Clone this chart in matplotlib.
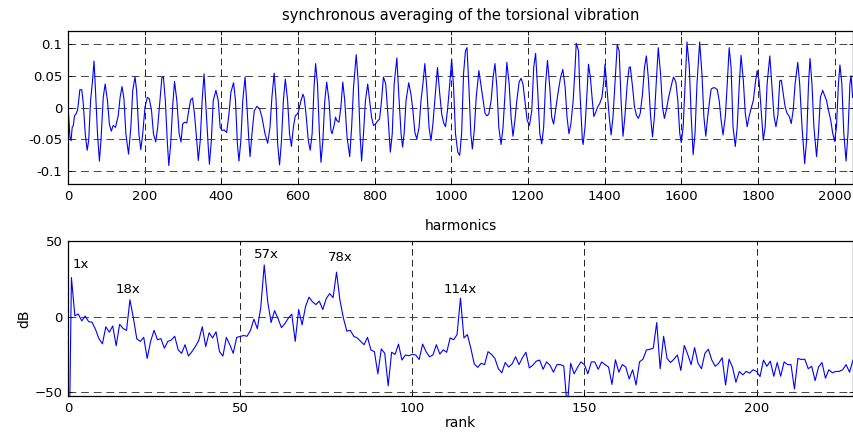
import numpy as np
import matplotlib
matplotlib.use("Agg")
import matplotlib.pyplot as plt
from matplotlib.ticker import FixedLocator, FixedFormatter

plt.rcParams['font.family'] = ['DejaVu Sans']
plt.rcParams['font.size'] = 9.5

# ---------------- data: synchronous average (sample index, value) ----------------
sync_sample = [
    1, 5, 8, 11, 14, 17, 21, 25, 28, 31,
    36, 40, 45, 50, 54, 59, 64, 68, 71, 77,
    82, 86, 92, 97, 103, 108, 113, 118, 124, 131,
    136, 141, 146, 151, 158, 164, 169, 175, 179, 185,
    190, 195, 201, 207, 212, 218, 223, 229, 234, 240,
    245, 249, 254, 259, 263, 268, 273, 278, 284, 290,
    295, 299, 304, 310, 315, 320, 325, 330, 336, 340,
    345, 350, 355, 360, 366, 369, 374, 379, 386, 392,
    397, 402, 407, 414, 420, 425, 432, 437, 442, 446,
    451, 456, 462, 466, 472, 475, 480, 486, 493, 500,
    506, 514, 521, 527, 532, 538, 543, 547, 552, 557,
    562, 567, 573, 578, 583, 588, 593, 597, 601,
    608, 613, 616, 621, 627, 632, 637, 642, 646, 651,
    656, 660, 665, 670, 675, 681, 686, 689, 695, 698,
    701, 707, 712, 717, 722, 728, 735, 740, 745, 752,
    757, 762, 766, 771, 776, 782, 787, 792, 797, 802,
    808, 813, 818, 823, 829, 834, 841, 846, 851, 858,
    863, 869, 873, 877, 882, 889, 895, 900, 905, 910,
    916, 921, 926, 931, 936, 942, 947, 952, 957, 964,
    970, 975, 980, 985, 990, 996, 1001, 1006, 1011, 1017,
    1022, 1027, 1032, 1037, 1041, 1046, 1051, 1055, 1060, 1065,
    1072, 1077, 1083, 1088, 1093, 1098, 1104, 1109, 1114, 1119,
    1124, 1130, 1135, 1140, 1145, 1151, 1156, 1161, 1166, 1171,
    1177, 1182, 1187, 1192, 1198, 1204, 1210, 1215, 1220, 1225,
    1231, 1236, 1241, 1246, 1251, 1257, 1262, 1267, 1272, 1278,
    1285, 1291, 1297, 1302, 1307, 1312, 1318, 1323, 1326, 1332,
    1335, 1339, 1342, 1344, 1349, 1354, 1358, 1363, 1368, 1372,
    1377, 1382, 1387, 1393, 1398, 1401, 1406, 1412, 1417, 1422,
    1427, 1433, 1438, 1443, 1448, 1453, 1459, 1464, 1467, 1473,
    1478, 1483, 1488, 1493, 1499, 1504, 1509, 1514, 1520, 1525,
    1530, 1535, 1540, 1546, 1551, 1556, 1561, 1567, 1572, 1577,
    1580, 1586, 1591, 1596, 1600, 1605, 1610, 1615, 1621, 1626,
    1631, 1636, 1641, 1648, 1654, 1659, 1664, 1669, 1675, 1678,
    1683, 1688, 1694, 1699, 1704, 1709, 1715, 1720, 1725, 1730,
    1735, 1741, 1746, 1751, 1756, 1762, 1767, 1772, 1777, 1782,
    1788, 1793, 1798, 1803, 1809, 1814, 1819, 1824, 1831, 1836,
    1842, 1847, 1852, 1857, 1861, 1866, 1871, 1876, 1882, 1887,
    1892, 1897, 1904, 1909, 1915, 1922, 1927, 1932, 1936, 1941,
    1946, 1953, 1958, 1963, 1969, 1974, 1979, 1984, 1990, 1995,
    2000, 2005, 2010, 2014, 2019, 2024, 2030, 2035, 2040, 2043,
    2047,
]
sync_value = [
    -0.005, -0.046, -0.052, -0.031, -0.028, -0.013, -0.010, -0.004, 0.011, 0.028,
    0.028, 0.006, -0.041, -0.067, -0.052, 0.011, 0.042, 0.073, 0.037, -0.041,
    -0.084, -0.052, 0.016, 0.037, 0.011, -0.026, -0.037, -0.028, -0.031, -0.013,
    0.016, 0.033, 0.014, -0.041, -0.073, -0.031, 0.027, 0.048, 0.027, -0.041,
    -0.066, -0.041, 0.001, 0.016, 0.014, -0.005, -0.041, -0.054, -0.031, 0.011,
    0.047, 0.048, 0.011, -0.052, -0.091, -0.057, 0.001, 0.041, 0.011, -0.041,
    -0.054, -0.026, -0.023, -0.024, -0.005, 0.012, 0.015, -0.010, -0.052, -0.083,
    -0.052, 0.011, 0.053, 0.001, -0.062, -0.089, -0.052, 0.011, 0.027, 0.011,
    -0.031, -0.036, -0.035, -0.039, -0.010, 0.024, 0.039, 0.011, -0.057, -0.084,
    -0.052, 0.011, 0.048, 0.011, -0.052, -0.077, -0.041, -0.005, 0.002, -0.002,
    -0.015, -0.041, -0.056, -0.031, 0.016, 0.054, 0.011, -0.057, -0.090, -0.052,
    0.011, 0.045, 0.011, -0.041, -0.061, -0.031, -0.013, -0.011, -0.007,
    0.011, 0.021, 0.016, -0.010, -0.052, -0.067, -0.041, 0.032, 0.069, 0.037,
    -0.041, -0.086, -0.052, 0.011, 0.040, 0.011, -0.036, -0.041, -0.026, -0.015,
    -0.020, -0.023, 0.001, 0.040, 0.011, -0.046, -0.077, -0.031, 0.032, 0.083,
    0.042, -0.041, -0.084, -0.041, 0.011, 0.037, 0.011, -0.015, -0.028, -0.026,
    -0.021, -0.018, 0.011, 0.048, 0.037, -0.005, -0.070, -0.041, 0.037, 0.078,
    0.021, -0.041, -0.062, -0.041, 0.011, 0.039, 0.020, -0.005, -0.039, -0.049,
    -0.031, 0.011, 0.037, 0.069, 0.032, -0.031, -0.052, -0.026, 0.011, 0.063,
    0.021, -0.010, -0.024, -0.030, -0.005, 0.037, 0.076, 0.032, -0.041, -0.070,
    -0.075, -0.041, 0.053, 0.089, 0.094, 0.032, -0.041, -0.065, -0.036, 0.016,
    0.058, 0.037, 0.011, -0.009, -0.013, -0.010, 0.011, 0.047, 0.069, 0.032,
    -0.031, -0.058, -0.031, 0.021, 0.071, 0.037, -0.015, -0.045, -0.020, 0.011,
    0.040, 0.046, 0.037, 0.011, -0.020, -0.028, -0.005, 0.063, 0.085, 0.032,
    -0.041, -0.057, -0.031, 0.037, 0.074, 0.032, -0.015, -0.026, -0.005, 0.021,
    0.047, 0.060, 0.032, -0.015, -0.041, -0.026, 0.011, 0.063, 0.101, 0.089,
    0.032, -0.014, -0.051, -0.058, -0.030, 0.022, 0.068, 0.047, 0.011, -0.014,
    -0.007, 0.001, 0.006, 0.016, 0.042, 0.068, 0.032, -0.014, -0.043, -0.014,
    0.037, 0.099, 0.089, 0.011, -0.045, -0.014, 0.037, 0.063, 0.064, 0.032,
    0.001, -0.012, -0.017, -0.009, 0.022, 0.063, 0.081, 0.047, -0.014, -0.046,
    -0.014, 0.042, 0.094, 0.053, 0.001, -0.017, -0.004, 0.016, 0.029, 0.042,
    0.048, 0.040, 0.011, -0.040, -0.055, -0.030, 0.037, 0.103, 0.063, -0.014,
    -0.074, -0.040, 0.037, 0.103, 0.053, -0.014, -0.045, -0.014, 0.016, 0.029,
    0.031, 0.031, 0.028, 0.011, -0.020, -0.043, -0.014, 0.037, 0.094, 0.063,
    -0.030, -0.061, -0.030, 0.032, 0.082, 0.042, -0.009, -0.030, -0.014, -0.002,
    0.011, 0.037, 0.058, 0.042, -0.009, -0.051, -0.030, 0.037, 0.081, 0.037,
    -0.014, -0.030, -0.012, 0.042, 0.043, 0.022, 0.001, -0.009, -0.014, -0.025,
    -0.004, 0.037, 0.071, 0.037, -0.030, -0.088, -0.051, 0.037, 0.077, 0.037,
    -0.030, -0.077, -0.040, 0.016, 0.027, 0.019, 0.011, -0.004, -0.020, -0.040,
    -0.053, -0.030, 0.037, 0.067, 0.037, -0.040, -0.084, -0.040, 0.037, 0.050,
    0.016,
]

# ---------------- data: harmonics spectrum (dB per rank) ----------------
harm_rank = list(range(229))
harm_db = [
    -150.0, 26.0, 0.7, 1.8, -2.7, 0.5, -3.2, -3.6, -8.4, -14.5,
    -17.9, -6.6, -10.2, -6.1, -19.2, -5.0, -7.7, -9.0, 11.3, -0.9,
    -14.7, -16.3, -13.6, -27.6, -16.3, -9.0, -15.2, -14.5, -20.8, -16.3,
    -15.4, -12.9, -21.9, -24.2, -18.5, -26.0, -23.1, -19.7, -15.6, -6.6,
    -19.7, -10.6, -14.0, -9.9, -23.1, -26.0, -13.6, -18.5, -24.2, -13.6,
    -13.1, -12.4, -12.9, -9.0, -1.6, -7.9, 6.3, 34.4, 10.2, -3.8,
    4.1, -1.1, -7.2, -4.5, -0.9, 1.8, -16.3, 4.8, -5.4, 6.8,
    13.0, 10.0, 8.1, 10.4, 4.8, 12.0, 15.4, 12.7, 29.6, 10.9,
    -0.9, -9.5, -9.0, -12.9, -14.0, -16.3, -18.5, -13.6, -22.0, -23.1,
    -37.8, -21.3, -24.2, -45.7, -23.5, -24.9, -18.1, -28.7, -25.3, -25.8,
    -24.9, -25.3, -28.3, -18.1, -23.1, -26.5, -25.3, -18.5, -24.7, -21.9,
    -23.5, -14.0, -15.2, -11.8, 12.4, -14.0, -11.8, -20.8, -31.2, -33.5,
    -30.8, -31.7, -23.1, -24.9, -27.6, -34.4, -37.1, -30.3, -33.3, -31.2,
    -26.5, -31.7, -27.1, -23.5, -33.9, -32.1, -29.4, -28.7, -34.8, -29.9,
    -32.1, -36.7, -31.7, -31.7, -32.6, -60.0, -30.8, -37.8, -33.5, -29.9,
    -31.7, -37.8, -29.9, -29.9, -34.8, -29.9, -31.7, -33.3, -44.8, -28.5,
    -36.7, -31.7, -33.3, -41.2, -35.1, -45.2, -29.9, -28.1, -22.0, -21.5,
    -20.8, -3.8, -34.4, -12.9, -27.6, -30.3, -28.1, -25.3, -35.5, -19.0,
    -24.9, -31.7, -20.4, -30.8, -34.4, -24.2, -21.5, -28.7, -32.8, -30.8,
    -27.1, -45.2, -28.1, -33.3, -43.4, -36.2, -38.5, -36.2, -37.3, -35.1,
    -36.2, -39.6, -28.7, -32.8, -29.4, -39.4, -30.3, -39.4, -29.9, -31.7,
    -31.7, -47.9, -27.6, -28.3, -28.1, -34.4, -32.8, -42.3, -33.3, -30.3,
    -40.7, -35.1, -37.1, -36.2, -36.2, -35.1, -31.7, -36.7, -28.7,
]

# ---------------- ticks and labels ----------------
top_xticks = [0, 200, 400, 600, 800, 1000, 1200, 1400, 1600, 1800, 2000]
top_yticks = [-0.1, -0.05, 0, 0.05, 0.1]
top_ytick_labels = ['-0.1', '-0.05', '0', '0.05', '0.1']
bot_xticks = [0, 50, 100, 150, 200]
bot_yticks = [-50, 0, 50]
peak_labels = ['1x', '18x', '57x', '78x', '114x']
# label anchor positions (rank, dB)
peak_label_x = [3.8, 17.4, 57.5, 79.0, 113.9]
peak_label_y = [34.7, 18.0, 41.3, 39.3, 18.0]

BLUE = '#0000ff'

fig = plt.figure(figsize=(8.54, 4.32), dpi=100)
fig.patch.set_facecolor('white')
ax1 = fig.add_axes([0.0796, 0.574, 0.9192, 0.354])
ax2 = fig.add_axes([0.0796, 0.0833, 0.9192, 0.358])


def style(ax):
    for s in ax.spines.values():
        s.set_linewidth(0.9)
        s.set_color('black')
    ax.tick_params(direction='in', length=3, width=0.6, colors='black',
                   labelsize=9.5, top=True, right=True, pad=4)
    ax.xaxis.grid(True, color='black', linestyle=(0, (8, 5)), linewidth=0.6)
    ax.yaxis.grid(True, color='#444444', linestyle=(0, (8, 5)), linewidth=0.7)
    ax.set_axisbelow(True)


# top panel
ax1.plot(sync_sample, sync_value, color=BLUE, linewidth=0.8)
ax1.set_xlim(0, 2048)
ax1.set_ylim(-0.12, 0.12)
ax1.xaxis.set_major_locator(FixedLocator(top_xticks))
ax1.yaxis.set_major_locator(FixedLocator(top_yticks))
ax1.yaxis.set_major_formatter(FixedFormatter(top_ytick_labels))
style(ax1)
ax1.set_title('synchronous averaging of the torsional vibration', fontsize=10.5, pad=8)

# bottom panel
ax2.plot(harm_rank, harm_db, color=BLUE, linewidth=0.8)
ax2.set_xlim(0, 228)
ax2.set_ylim(-52.5, 50)
ax2.xaxis.set_major_locator(FixedLocator(bot_xticks))
ax2.yaxis.set_major_locator(FixedLocator(bot_yticks))
style(ax2)
ax2.set_title('harmonics', fontsize=10, pad=8)
ax2.set_xlabel('rank', fontsize=10, labelpad=1)
ax2.set_ylabel('dB', fontsize=10, labelpad=2)
for lab, lx, ly in zip(peak_labels, peak_label_x, peak_label_y):
    ax2.text(lx, ly, lab, ha='center', va='center', fontsize=9.5)

fig.savefig('out.png', dpi=100)
